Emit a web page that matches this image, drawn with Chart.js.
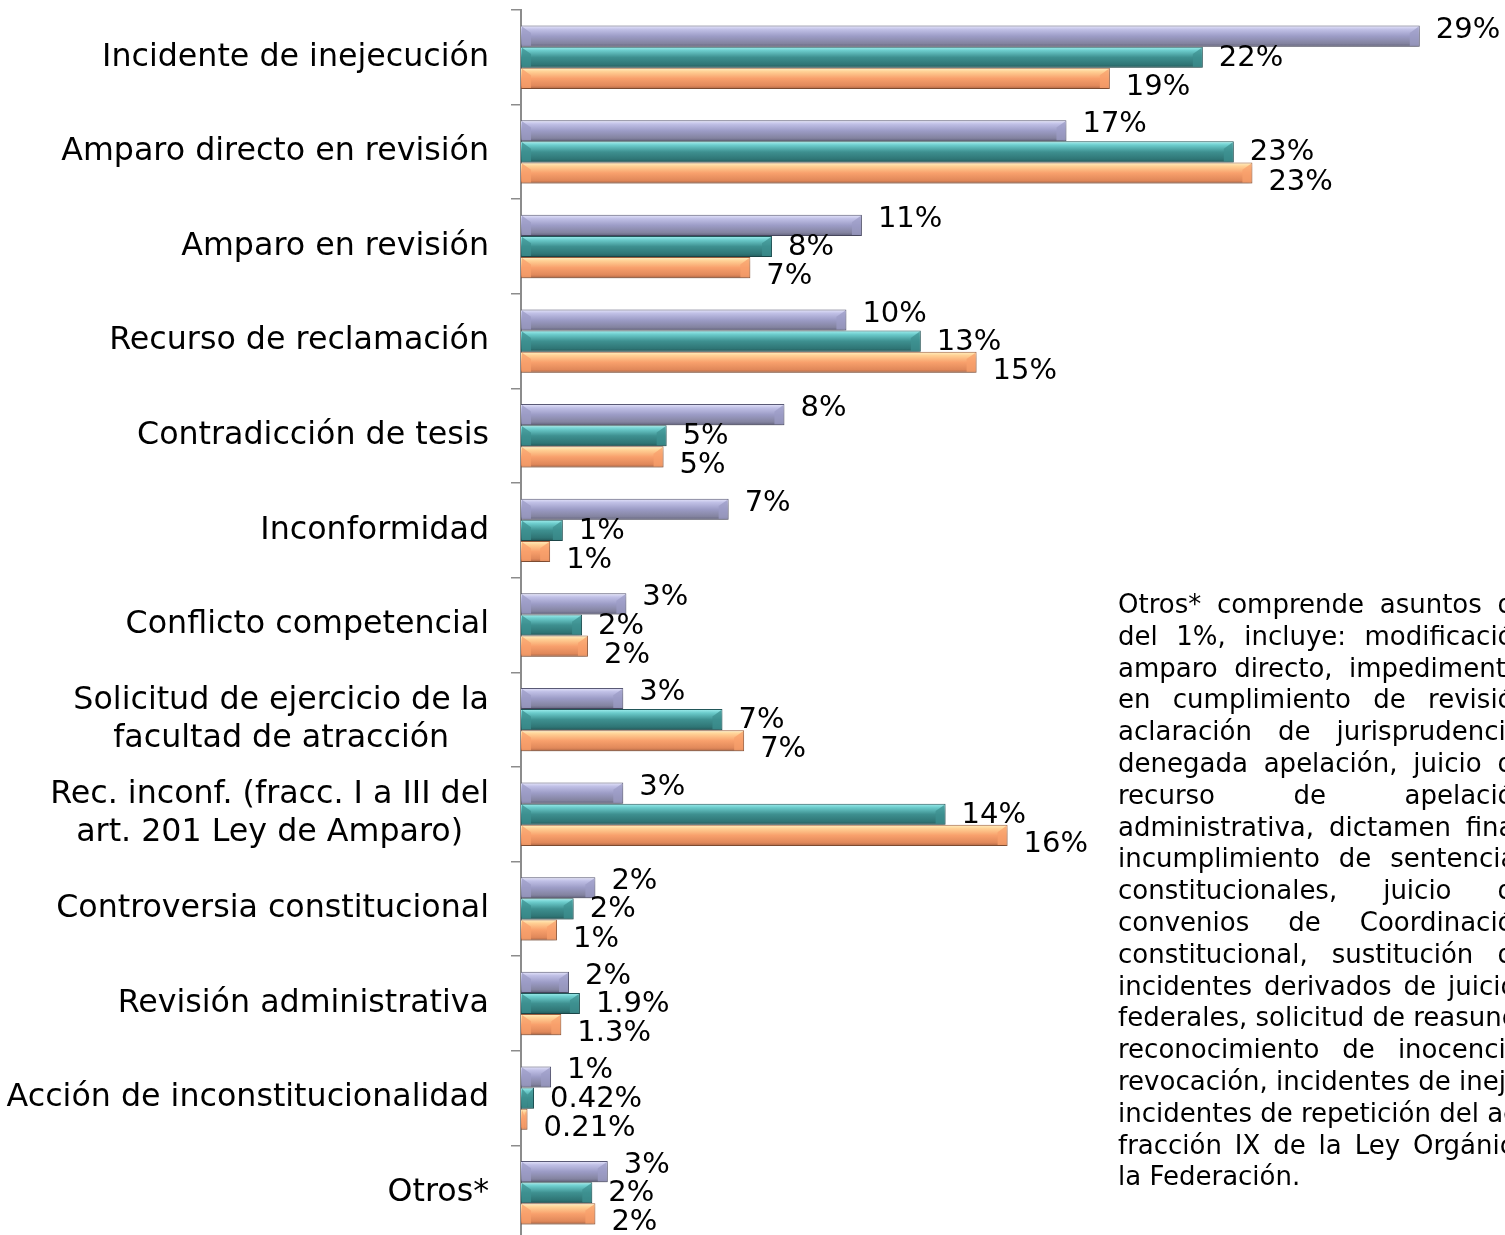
<!DOCTYPE html>
<html>
<head>
<meta charset="utf-8">
<script src="https://cdn.jsdelivr.net/npm/chart.js@4.4.0/dist/chart.umd.min.js"></script>
<style>
  html, body { margin: 0; padding: 0; background: #fff; overflow: hidden; width: 1505px; height: 1235px; }
  #wrap { position: absolute; left: 0; top: 0; width: 1505px; height: 1240px; }
  #note { position: absolute; left: 1118px; top: 589px; width: 412px; font-family: "DejaVu Sans"; font-size: 26px; color: #000; }
  #note div { height: 31.8px; line-height: 31.8px; overflow: hidden; text-align: justify; text-align-last: justify; }
  #note div.largo { text-align: left; text-align-last: left; white-space: nowrap; overflow: visible; }
  #note div.last { text-align: left; text-align-last: left; }
</style>
</head>
<body>
<div id="wrap"><canvas id="grafica" width="1505" height="1240"></canvas></div>
<div id="note">
  <div>Otros* comprende asuntos de</div>
  <div>del 1%, incluye: modificación</div>
  <div>amparo directo, impedimento,</div>
  <div>en cumplimiento de revisión</div>
  <div>aclaración de jurisprudencia,</div>
  <div>denegada apelación, juicio de</div>
  <div>recurso de apelación</div>
  <div>administrativa, dictamen final,</div>
  <div>incumplimiento de sentencias</div>
  <div>constitucionales, juicio de</div>
  <div>convenios de Coordinación</div>
  <div>constitucional, sustitución de</div>
  <div>incidentes derivados de juicios</div>
  <div class="largo">federales, solicitud de reasunción,</div>
  <div>reconocimiento de inocencia,</div>
  <div class="largo">revocación, incidentes de inejecución,</div>
  <div class="largo">incidentes de repetición del acto</div>
  <div>fracción IX de la Ley Orgánica</div>
  <div class="last">la Federación.</div>
</div>
<script>
// categorias (eje vertical)
const categorias = [
  "Incidente de inejecución",
  "Amparo directo en revisión",
  "Amparo en revisión",
  "Recurso de reclamación",
  "Contradicción de tesis",
  "Inconformidad",
  "Conflicto competencial",
  ["Solicitud de ejercicio de la", "facultad de atracción"],
  ["Rec. inconf. (fracc. I a III del", "art. 201 Ley de Amparo)"],
  "Controversia constitucional",
  "Revisión administrativa",
  "Acción de inconstitucionalidad",
  "Otros*"
];

const serieMorada = [29, 17.6, 11, 10.5, 8.5, 6.7, 3.4, 3.3, 3.3, 2.4, 1.55, 0.97, 2.8];
const serieVerde = [22, 23, 8.1, 12.9, 4.7, 1.35, 1.97, 6.5, 13.7, 1.7, 1.9, 0.42, 2.3];
const serieNaranja = [19, 23.6, 7.4, 14.7, 4.6, 0.94, 2.16, 7.2, 15.7, 1.16, 1.3, 0.21, 2.4];

// etiquetas tal como aparecen
const etiquetasMorada = ["29%", "17%", "11%", "10%", "8%", "7%", "3%", "3%", "3%", "2%", "2%", "1%", "3%"];
const etiquetasVerde = ["22%", "23%", "8%", "13%", "5%", "1%", "2%", "7%", "14%", "2%", "1.9%", "0.42%", "2%"];
const etiquetasNaranja = ["19%", "23%", "7%", "15%", "5%", "1%", "2%", "7%", "16%", "1%", "1.3%", "0.21%", "2%"];

const etiquetas = [etiquetasMorada, etiquetasVerde, etiquetasNaranja];

// degradado vertical de cada barra (efecto 3D)
const degradados = [
  ["#e8e8fc", "#c0c0e6", "#9c9cc6", "#83839f", "#5e5e7a"],
  ["#a4f0f0", "#6ccccc", "#3e9090", "#2f7575", "#235858"],
  ["#fff2c4", "#ffd094", "#f8a06c", "#e0885a", "#a86444"]
];
const bordes = ["#5a5a76", "#22575a", "#a0603e"];
const desplazY = [-6, 1, 9];

function bisel(ctx, x0, dir, largo, el, color) {
  const h = el.height;
  const arriba = el.y - h / 2 + 1;
  const abajo = el.y + h / 2 - 1;
  ctx.beginPath();
  ctx.moveTo(x0, arriba);
  ctx.lineTo(x0 + dir * largo, arriba + h * 0.3);
  ctx.lineTo(x0 + dir * largo, abajo);
  ctx.lineTo(x0, abajo);
  ctx.closePath();
  ctx.fillStyle = color;
  ctx.fill();
}

const barras3d = {
  id: "barras3d",
  beforeDatasetsDraw(chart) {
    const ctx = chart.ctx;
    chart.data.datasets.forEach((ds, i) => {
      const meta = chart.getDatasetMeta(i);
      meta.data.forEach((el) => {
        const arriba = el.y - el.height / 2;
        const abajo = el.y + el.height / 2;
        const g = ctx.createLinearGradient(0, arriba, 0, abajo);
        const c = degradados[i];
        g.addColorStop(0, c[0]);
        g.addColorStop(0.18, c[1]);
        g.addColorStop(0.5, c[2]);
        g.addColorStop(0.85, c[3]);
        g.addColorStop(1, c[4]);
        el.options.backgroundColor = g;
      });
    });
    ctx.save();
    ctx.shadowColor = "rgba(0,0,0,0.25)";
    ctx.shadowBlur = 4;
    ctx.shadowOffsetY = 3;
  },
  afterDatasetsDraw(chart) {
    const ctx = chart.ctx;
    ctx.restore();
    // bisel en los extremos de cada barra
    ctx.save();
    ctx.globalAlpha = 0.75;
    chart.data.datasets.forEach((ds, i) => {
      chart.getDatasetMeta(i).data.forEach((el) => {
        const largo = Math.min(9, (el.x - el.base) / 2 - 1);
        if (largo <= 1) return;
        bisel(ctx, el.base + 1, 1, largo, el, degradados[i][2]);
        bisel(ctx, el.x - 1, -1, largo, el, degradados[i][2]);
      });
    });
    ctx.restore();

    // etiquetas de valor
    ctx.save();
    ctx.font = "29px 'DejaVu Sans'";
    ctx.fillStyle = "#000";
    ctx.textBaseline = "middle";
    ctx.textAlign = "left";
    chart.data.datasets.forEach((ds, i) => {
      chart.getDatasetMeta(i).data.forEach((el, j) => {
        ctx.fillText(etiquetas[i][j], el.x + 16, el.y + desplazY[i]);
      });
    });
    ctx.restore();
  },
  afterDraw(chart) {
    // nombres de categoria, centrados entre lineas cuando son dos
    const ctx = chart.ctx;
    const ejeY = chart.scales.y;
    ctx.save();
    ctx.font = "31.7px 'DejaVu Sans'";
    ctx.fillStyle = "#000";
    ctx.textBaseline = "middle";
    ctx.textAlign = "center";
    categorias.forEach((cat, j) => {
      const lineas = Array.isArray(cat) ? cat : [cat];
      const ancho = Math.max(...lineas.map((l) => ctx.measureText(l).width));
      const cx = 489 - ancho / 2;
      const y = ejeY.getPixelForValue(j);
      lineas.forEach((l, k) => {
        ctx.fillText(l, cx, y + (k - (lineas.length - 1) / 2) * 38);
      });
    });
    ctx.restore();
  }
};

new Chart(document.getElementById("grafica"), {
  type: "bar",
  data: {
    labels: categorias,
    datasets: [
      { label: "Serie 1", data: serieMorada, borderColor: bordes[0] },
      { label: "Serie 2", data: serieVerde, borderColor: bordes[1] },
      { label: "Serie 3", data: serieNaranja, borderColor: bordes[2] }
    ]
  },
  options: {
    indexAxis: "y",
    responsive: false,
    animation: false,
    events: [],
    layout: { padding: { top: 10, right: 0, bottom: 0, left: 0 } },
    datasets: {
      bar: {
        categoryPercentage: 0.67,
        barPercentage: 1,
        borderWidth: 1,
        // funcion: asi cada barra tiene sus propias opciones y su degradado
        backgroundColor: (c) => degradados[c.datasetIndex][2]
      }
    },
    plugins: {
      legend: { display: false },
      tooltip: { enabled: false }
    },
    scales: {
      x: {
        display: false,
        min: 0,
        max: 31.75
      },
      y: {
        afterFit(scale) {
          scale.width = 521;
        },
        ticks: { display: false },
        grid: {
          display: true,
          offset: true,
          drawOnChartArea: false,
          drawTicks: true,
          tickLength: 10,
          color: "#8c8c8c",
          lineWidth: 1.5
        },
        border: { display: true, color: "#8c8c8c", width: 2 }
      }
    }
  },
  plugins: [barras3d]
});
</script>
</body>
</html>
